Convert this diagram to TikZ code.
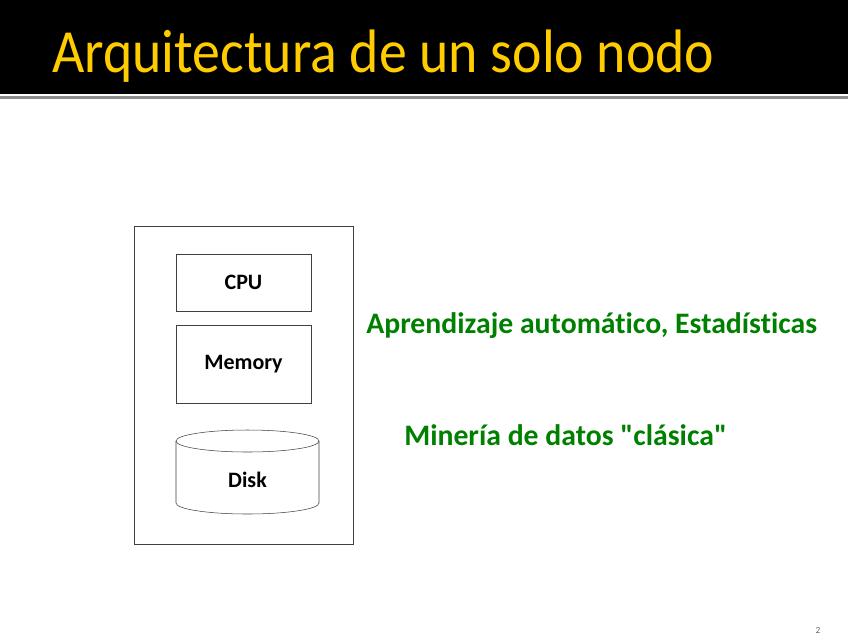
\documentclass[tikz,border=0pt]{standalone}
\usepackage{fontspec}
\setmainfont{Carlito}[Ligatures=TeXOff, RawFeature=-liga]
\usetikzlibrary{positioning}
\definecolor{titleyellow}{RGB}{255,204,0}
\definecolor{mlgreen}{RGB}{0,128,0}

\begin{document}
\begin{tikzpicture}[x=0.75pt, y=-0.75pt,
  partbox/.style={rectangle, draw=black!75, thin, minimum width=101.25pt,
    font=\fontsize{16.5}{19}\selectfont\bfseries, inner sep=0pt},
  nodebox/.style={rectangle, draw=black!75, thin, minimum width=164.25pt,
    minimum height=238.5pt, inner sep=0pt},
  greentxt/.style={font=\fontsize{22.3}{26}\selectfont\bfseries, text=mlgreen,
    inner sep=0pt},
]
\useasboundingbox (0,0) rectangle (848,636);

%% ── Header band ──
\fill[black] (0,0) rectangle (848,94);
\draw[black!45, line width=2.25pt] (0,97.5) -- (848,97.5);
\node[anchor=base west, inner sep=0pt, text=titleyellow,
  font=\fontsize{46}{52}\selectfont] (title) at (52,72)
  {\scalebox{0.91}[1]{Arquitectura de un solo nodo}};

%% ── Single node ──
\node[nodebox] (machine) at (243.5,385.5) {};
\node[partbox, minimum height=42.75pt] (cpu) at (243.5,282.5) {CPU};
\node[partbox, minimum height=58.5pt]  (mem) at (243.5,364)   {Memory};

%% ── Disk (cylinder) ──
\node[font=\fontsize{16.5}{19}\selectfont\bfseries, inner sep=0pt] (disk) at (247.5,480) {Disk};
\coordinate (dtop) at (247.5,441);
\coordinate (dbot) at (247.5,503);
\draw[black!75, thin] (dtop) ellipse [x radius=71.5, y radius=11];
\draw[black!75, thin] ([xshift=-53.625pt]dtop) -- ([xshift=-53.625pt]dbot)
  arc[start angle=180, end angle=0, x radius=71.5, y radius=11]
  -- ([xshift=53.625pt]dtop);

%% ── Labels ──
\node[greentxt, anchor=base west] (ml) at (366,333) {Aprendizaje automático, Estadísticas};
\node[greentxt, anchor=base west] (dm) at (404,445) {Minería de datos "clásica"};

%% ── Slide number ──
\node[font=\fontsize{7}{8}\selectfont, text=black!60, inner sep=0pt] (pg) at (818,630) {2};
\end{tikzpicture}
\end{document}
